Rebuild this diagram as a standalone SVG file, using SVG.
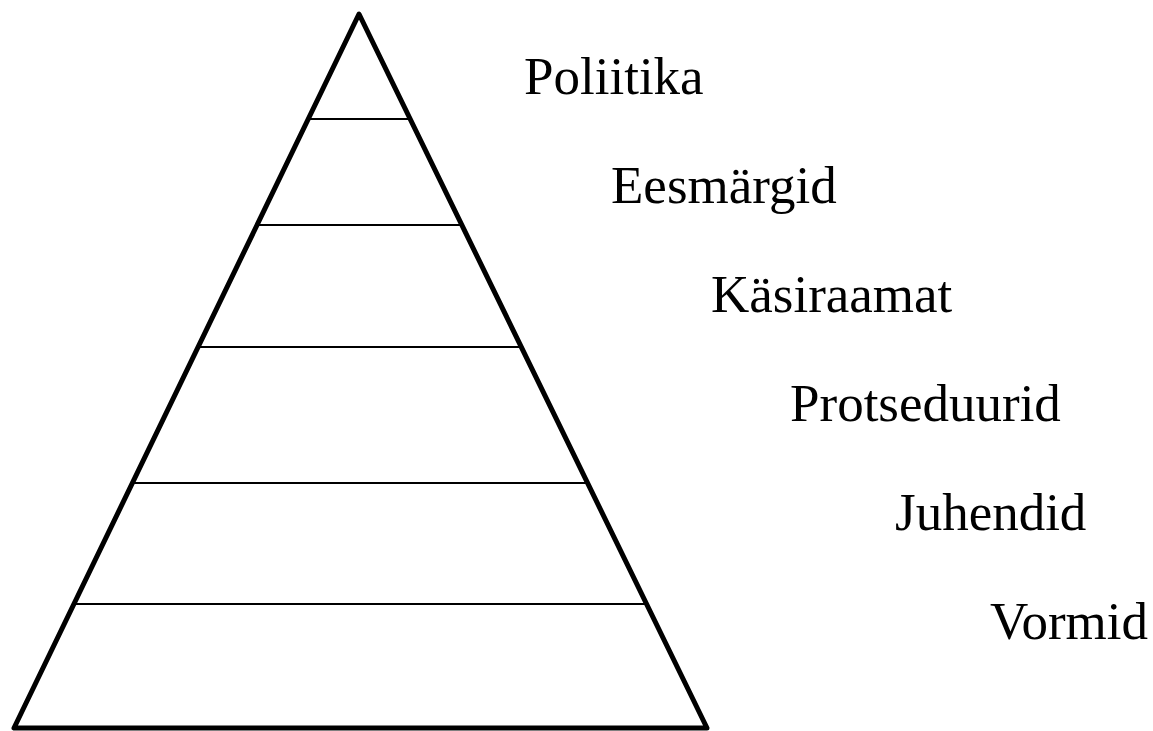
<svg xmlns="http://www.w3.org/2000/svg" width="1153" height="731" viewBox="0 0 1153 731">
<style>
.lbl{font-family:"Liberation Serif","Times New Roman",serif;font-size:53px;fill:#000}
.lvl{stroke:#000;stroke-width:2}
</style>
<rect width="1153" height="731" fill="#fff"/>
<g id="pyramid">
<polygon points="359,14 14,728 707,728" fill="none" stroke="#000" stroke-width="5" stroke-linejoin="round"/>
</g>
<g id="connectors">
<line class="lvl" x1="308" y1="119" x2="410" y2="119"/>
<line class="lvl" x1="257" y1="225" x2="462" y2="225"/>
<line class="lvl" x1="198" y1="347" x2="521" y2="347"/>
<line class="lvl" x1="132" y1="483" x2="588" y2="483"/>
<line class="lvl" x1="74" y1="604" x2="647" y2="604"/>
</g>
<g id="label-poliitika"><text class="lbl" x="524" y="94">Poliitika</text></g>
<g id="label-eesmargid"><text class="lbl" x="611" y="203">Eesmärgid</text></g>
<g id="label-kasiraamat"><text class="lbl" x="711" y="312">Käsiraamat</text></g>
<g id="label-protseduurid"><text class="lbl" x="790" y="421">Protseduurid</text></g>
<g id="label-juhendid"><text class="lbl" x="895" y="530">Juhendid</text></g>
<g id="label-vormid"><text class="lbl" x="990" y="639">Vormid</text></g>
</svg>
